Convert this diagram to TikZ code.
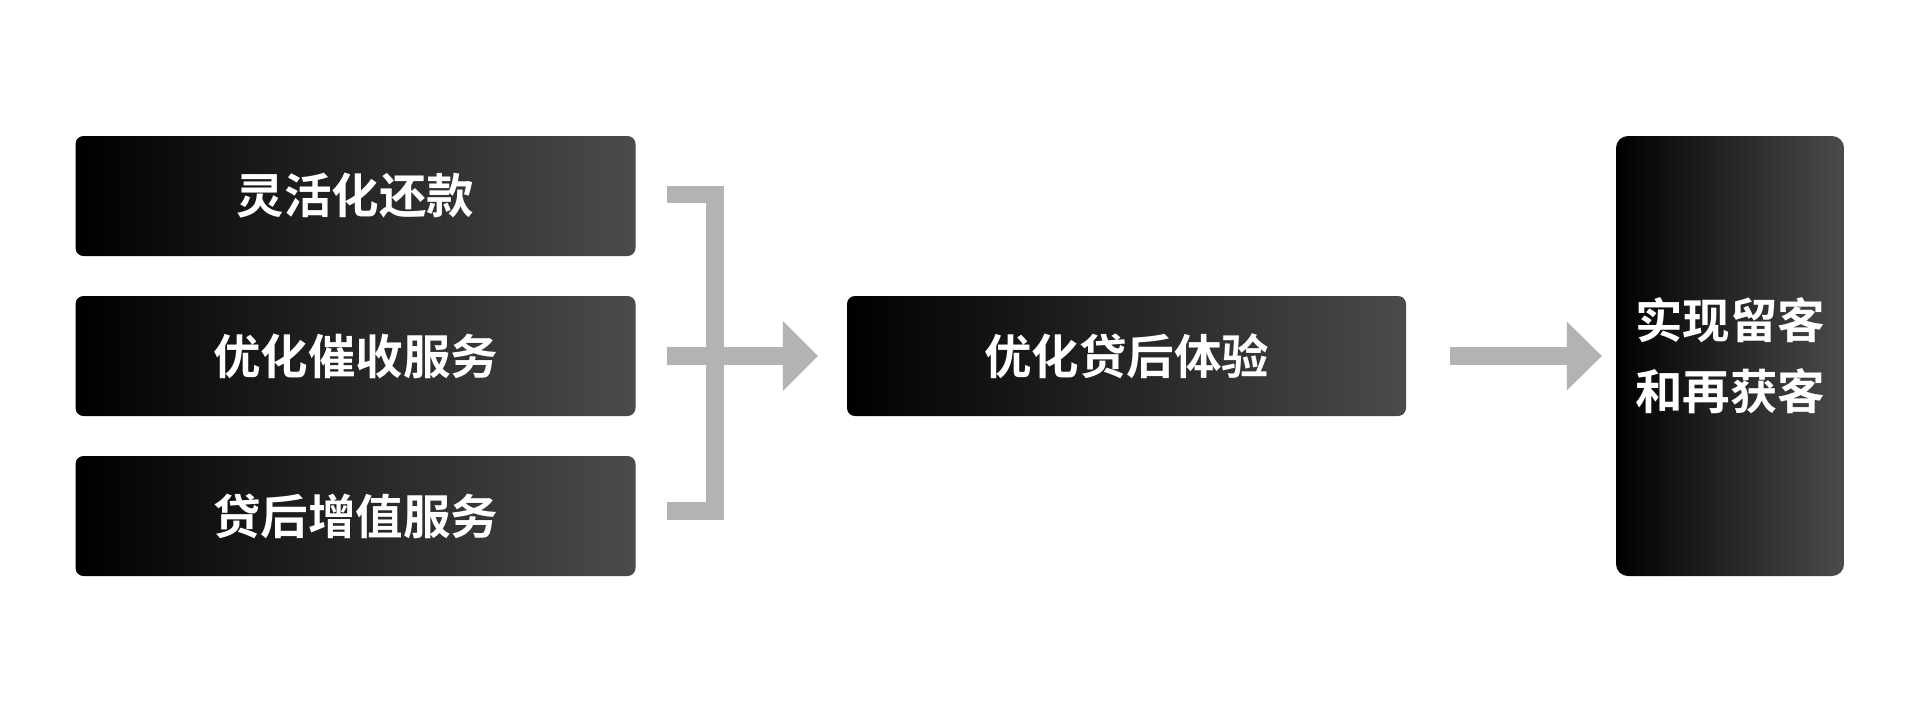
\documentclass[tikz,border=0pt]{standalone}
\usepackage{fontspec}
\newfontfamily\cjkb{Noto Sans CJK SC Bold}
\usetikzlibrary{calc}
\definecolor{boxend}{RGB}{75,75,75}
\definecolor{conngray}{RGB}{179,179,179}
\tikzset{
  gbox/.style={rounded corners=8pt, left color=black, right color=boxend, draw=none,
    text=white, font=\cjkb\fontsize{47.5}{71}\selectfont, align=center, inner sep=0pt},
  connline/.style={draw=conngray, line width=17.5pt, line cap=butt, line join=miter},
  connhead/.style={fill=conngray, draw=none},
}
\begin{document}
\begin{tikzpicture}[x=1pt,y=-1pt]
\useasboundingbox[fill=white] (0,0) rectangle (1921,713);
\node[gbox, minimum width=560pt, minimum height=120pt] (b1) at (355.5,196) {灵活化还款};
\node[gbox, minimum width=560pt, minimum height=120pt] (b2) at (355.5,356) {优化催收服务};
\node[gbox, minimum width=560pt, minimum height=120pt] (b3) at (355.5,516) {贷后增值服务};
\node[gbox, minimum width=559pt, minimum height=120pt] (mid) at (1126.5,356) {优化贷后体验};
\node[gbox, rounded corners=12pt, minimum width=228pt, minimum height=440pt] (goal) at (1730,356) {实现留客\\和再获客};
% bracket
\coordinate (t1) at ($(b1.east)+(31,-1.5)$);
\coordinate (t3) at ($(b3.east)+(31,-5)$);
\coordinate (vx) at ($(b2.east)+(79.5,0)$);
\draw[connline] (t1) -- (t1 -| vx) -- (t3 -| vx) -- (t3);
% arrow 1
\coordinate (a1s) at ($(b2.east)+(31,0)$);
\coordinate (a1e) at ($(mid.west)+(-29,0)$);
\draw[connline] (a1s) -- ($(a1e)+(-34.5,0)$);
\fill[connhead] ($(a1e)+(-35,-35)$) -- (a1e) -- ($(a1e)+(-35,35)$) -- cycle;
% arrow 2
\coordinate (a2s) at ($(mid.east)+(44,0)$);
\coordinate (a2e) at ($(goal.west)+(-14,0)$);
\draw[connline] (a2s) -- ($(a2e)+(-34.5,0)$);
\fill[connhead] ($(a2e)+(-35,-34.5)$) -- (a2e) -- ($(a2e)+(-35,34.5)$) -- cycle;
\end{tikzpicture}
\end{document}
